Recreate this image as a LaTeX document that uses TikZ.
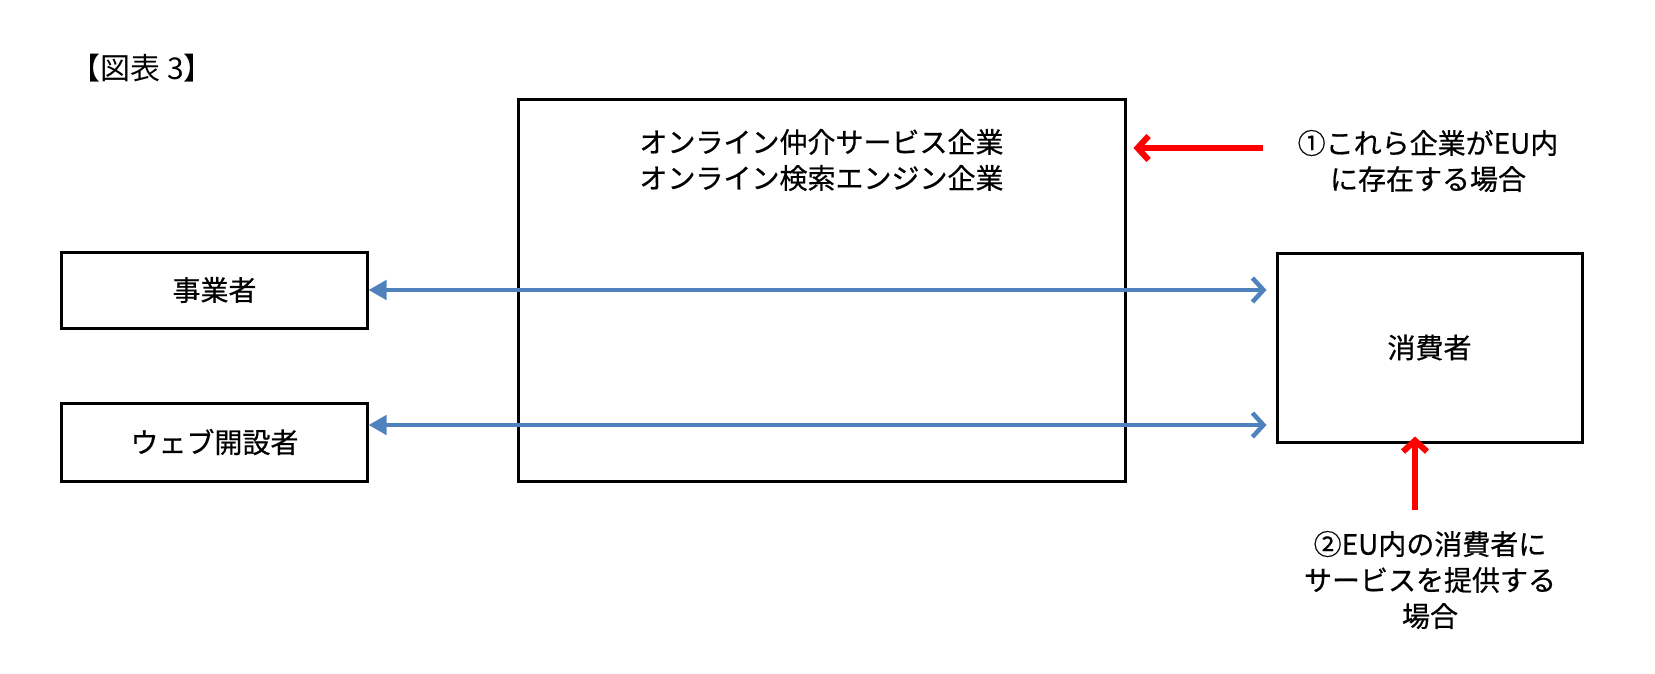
\documentclass[tikz,border=0pt]{standalone}
\usepackage{fontspec}
\setmainfont[UprightFeatures={FakeBold=0.6}]{Noto Sans CJK JP}
\newfontfamily\titlefont{Noto Sans CJK JP}
\usetikzlibrary{arrows.meta,positioning}
\definecolor{linkblue}{RGB}{79,129,189}
\definecolor{markred}{RGB}{255,0,0}

\begin{document}
\begin{tikzpicture}[x=1bp,y=-1bp]
\tikzset{
  tbox/.style={
    draw,
    line width=3bp,
    inner sep=0pt,
    anchor=center,
    align=center,
    font=\fontsize{28bp}{36bp}\selectfont
  },
  link/.style={
    linkblue,
    line width=4.5bp,
    {Triangle[length=18bp,width=19bp]}-{Straight Barb[length=11bp,width=24bp]}
  },
  redmark/.style={
    markred,
    line width=6bp,
    -{Straight Barb[length=11bp,width=24bp]}
  }
};

\tikzstyle{lab}=[anchor=center,align=center,font=\fontsize{28bp}{36bp}\selectfont]

 \useasboundingbox (0,0) rectangle (1655,674);

 \node[lab,font=\titlefont\fontsize{30bp}{32bp}\selectfont] (title) at (142,68) {【図表 3】};

 \node[tbox,minimum width=305bp,minimum height=76bp] (biz) at (214.5,290) {事業者};
 \node[tbox,minimum width=305bp,minimum height=78bp] (web) at (214.5,442) {ウェブ開設者};
 \node[tbox,minimum width=607bp,minimum height=381bp] (platform) at (821.5,290.5) {};
 \node[lab] (platformlab) at (821.5,160)
   {オンライン仲介サービス企業\\オンライン検索エンジン企業};
 \node[tbox,minimum width=305bp,minimum height=189bp] (cons) at (1429.5,347.5) {消費者};

 \node[lab] (case1) at (1428,161) {①これら企業がEU内\\に存在する場合};
 \node[lab] (case2) at (1430,580) {②EU内の消費者に\\サービスを提供する\\場合};

 % blue links
 \draw[link,shorten >=9bp] (biz.east) -- (biz.east -| cons.west);
 \draw[link,shorten >=9bp] ([yshift=17bp]web.east) -- ([yshift=17bp]web.east -| cons.west);

 % red marks
 \coordinate (m1) at (1263,148);
 \coordinate (m2) at (1415,510);
 \draw[redmark,shorten >=7bp] (m1) -- (m1 -| platform.east);
 \draw[redmark] (m2) -- ([yshift=7bp]m2 |- cons.south);
\end{tikzpicture}
\end{document}
